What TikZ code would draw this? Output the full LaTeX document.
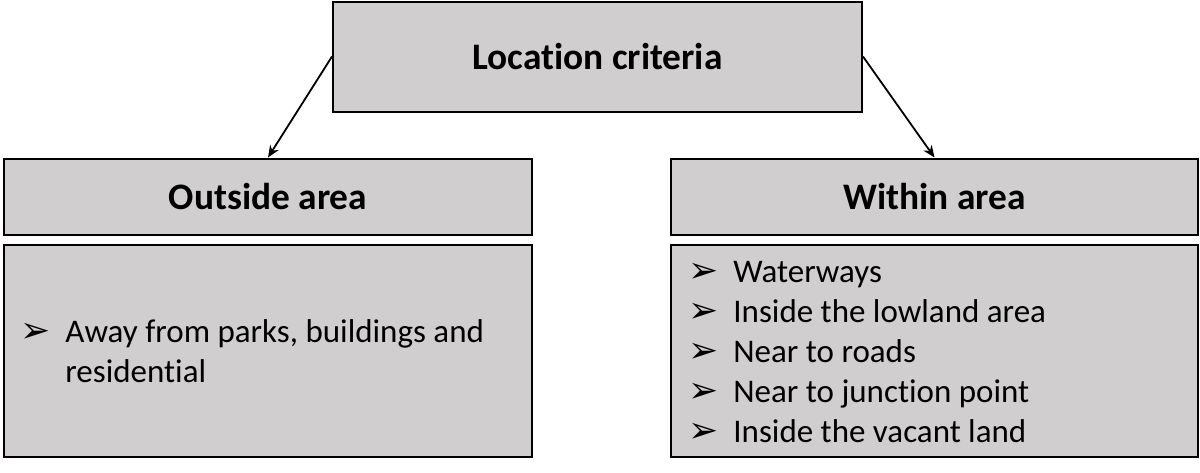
\documentclass[tikz,border=0pt]{standalone}
\usepackage{fontspec}
\setmainfont{Carlito}[Ligatures=NoCommon]
\newfontfamily\symfont{DejaVu Sans}
\usepackage{xcolor}
\usetikzlibrary{arrows.meta}
\definecolor{boxgray}{RGB}{208,206,206}
\newcommand{\bul}{\makebox[22.5pt][l]{\symfont\fontsize{18}{18}\selectfont ➢}}

\begin{document}
\begin{tikzpicture}[
  x=0.5pt, y=-0.5pt,
  >={Stealth[length=6pt, width=5pt]},
  edge/.style={->, line width=0.9pt},
  box/.style={draw, line width=1pt, fill=boxgray, inner sep=0pt},
  head/.style={font=\fontsize{18.7}{22}\selectfont\bfseries},
  lst/.style={font=\fontsize{16.5}{20}\selectfont, align=left, inner sep=0pt}
]
  \useasboundingbox (0,0) rectangle (1200,472);

  % nodes
  \node[box, head, minimum width=264.5pt, minimum height=55pt] (crit) at (597.5,56.5) {Location criteria};
  \node[box, head, minimum width=264pt, minimum height=38pt] (outside) at (268,196.5) {Outside area};
  \node[box, head, minimum width=263.5pt, minimum height=38pt] (within) at (934.5,196.5) {Within area};
  \node[box, minimum width=264pt, minimum height=106pt] (outbox) at (268,351) {};
  \node[box, minimum width=263.5pt, minimum height=106pt] (inbox) at (934.5,351) {};

  % lists
  \node[lst, anchor=west] (outlist) at (20,354) {%
    \begin{tabular}{@{}l@{}l@{}}
      \bul & Away from parks, buildings and\\
           & residential
    \end{tabular}};
  \node[lst, anchor=west] (inlist) at (688,354) {%
    \begin{tabular}{@{}l@{}l@{}}
      \bul & Waterways\\
      \bul & Inside the lowland area\\
      \bul & Near to roads\\
      \bul & Near to junction point\\
      \bul & Inside the vacant land
    \end{tabular}};

  % edges
  \draw[edge] (crit.west) -- (outside.north);
  \draw[edge] (crit.east) -- (within.north);
\end{tikzpicture}
\end{document}
